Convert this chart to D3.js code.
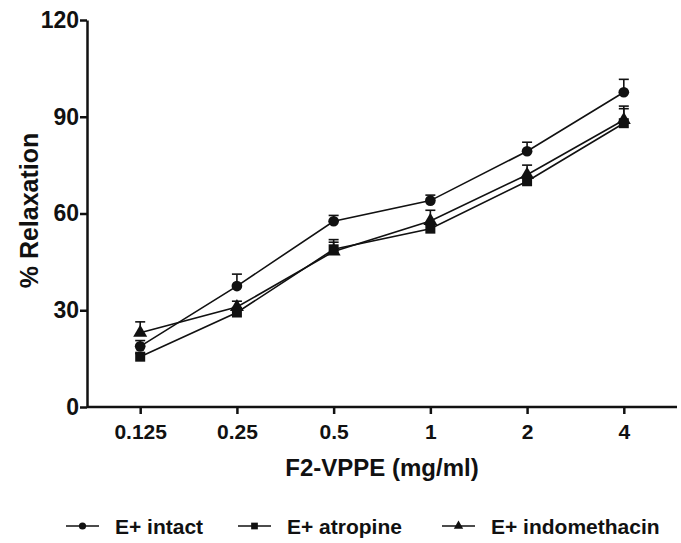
<!DOCTYPE html>
<html>
<head>
<meta charset="utf-8">
<script src="https://cdn.jsdelivr.net/npm/d3@7"></script>
<style>
  body { margin: 0; background: #fff; }
  text { font-family: "Liberation Sans", Arial, sans-serif; font-weight: bold; fill: #111; }
</style>
</head>
<body>
<div id="chart"></div>
<script>
// doses on the x axis
const doses = ["0.125", "0.25", "0.5", "1", "2", "4"];
const yTicks = [0, 30, 60, 90, 120];

// mean % relaxation and upper error (SEM) per dose
const intact = [18.8, 37.5, 57.6, 64.0, 79.3, 97.6];
const intactErr = [1.8, 3.7, 1.8, 1.7, 2.8, 4.0];
const atropine = [15.6, 29.3, 48.9, 55.3, 70.0, 88.0];
const atropineErr = [1.0, 1.5, 3.0, 1.2, 1.3, 5.3];
const indomethacin = [23.0, 31.0, 48.2, 57.7, 72.0, 89.0];
const indomethacinErr = [3.4, 1.8, 2.9, 3.3, 3.0, 3.5];

const seriesNames = ["E+ intact", "E+ atropine", "E+ indomethacin"];

const width = 681, height = 543;
const margin = {left: 87, right: 4, top: 20, bottom: 136};

const svg = d3.select("#chart").append("svg")
    .attr("width", width)
    .attr("height", height);

const x = d3.scalePoint()
    .domain(doses)
    .range([margin.left, width - margin.right])
    .padding(0.55);

const y = d3.scaleLinear()
    .domain([0, 120])
    .range([height - margin.bottom, margin.top]);

const series = [
    {name: seriesNames[0], values: intact, err: intactErr, shape: d3.symbolCircle, size: 90},
    {name: seriesNames[1], values: atropine, err: atropineErr, shape: d3.symbolSquare, size: 100},
    {name: seriesNames[2], values: indomethacin, err: indomethacinErr, shape: d3.symbolTriangle, size: 85}
];

// axes
const xAxis = svg.append("g")
    .attr("transform", `translate(0,${y(0)})`)
    .call(d3.axisBottom(x).tickSize(7).tickPadding(10).tickSizeOuter(0));
xAxis.select(".domain").attr("d", `M${margin.left},0H${width - margin.right}`);
xAxis.selectAll(".tick text").style("font-size", "21px");

const yAxis = svg.append("g")
    .attr("transform", `translate(${margin.left},0)`)
    .call(d3.axisLeft(y).tickValues(yTicks).tickSize(7).tickPadding(1).tickSizeOuter(0));
yAxis.selectAll(".tick text").style("font-size", "23px");

[xAxis, yAxis].forEach(function(ax) {
    ax.selectAll(".domain").attr("stroke", "#111").attr("stroke-width", 2.5);
    ax.selectAll(".tick line").attr("stroke", "#111").attr("stroke-width", 2.5);
    ax.selectAll(".tick text")
        .style("font-weight", "bold")
        .attr("fill", "#111");
});

// axis titles
svg.append("text")
    .attr("x", (margin.left + width - margin.right) / 2)
    .attr("y", 476)
    .attr("text-anchor", "middle")
    .style("font-size", "24px")
    .text("F2-VPPE (mg/ml)");

svg.append("text")
    .attr("transform", `translate(38,${y(60) - 3}) rotate(-90)`)
    .attr("text-anchor", "middle")
    .style("font-size", "25px")
    .text("% Relaxation");

// lines, error bars, markers
const line = d3.line()
    .x((d, i) => x(doses[i]))
    .y(d => y(d));

series.forEach(function(s) {
    const g = svg.append("g").attr("class", "series");
    g.append("path")
        .attr("d", line(s.values))
        .attr("fill", "none")
        .attr("stroke", "#111")
        .attr("stroke-width", 1.6);

    const bars = g.selectAll(".err").data(s.values).join("g").attr("class", "err");
    bars.append("line")
        .attr("x1", (d, i) => x(doses[i]))
        .attr("x2", (d, i) => x(doses[i]))
        .attr("y1", d => y(d))
        .attr("y2", (d, i) => y(d + s.err[i]))
        .attr("stroke", "#111")
        .attr("stroke-width", 1.6);
    bars.append("line")
        .attr("x1", (d, i) => x(doses[i]) - 5)
        .attr("x2", (d, i) => x(doses[i]) + 5)
        .attr("y1", (d, i) => y(d + s.err[i]))
        .attr("y2", (d, i) => y(d + s.err[i]))
        .attr("stroke", "#111")
        .attr("stroke-width", 1.6);

    g.selectAll(".mark").data(s.values).join("path")
        .attr("class", "mark")
        .attr("transform", (d, i) => `translate(${x(doses[i])},${y(d)})`)
        .attr("d", d3.symbol().type(s.shape).size(s.size))
        .attr("fill", "#111");
});

// legend
const legendX = [66, 238, 442];
const legend = svg.append("g").attr("class", "legend");
series.forEach(function(s, i) {
    const lg = legend.append("g").attr("transform", `translate(${legendX[i]},526)`);
    lg.append("line")
        .attr("x1", 0).attr("x2", 33)
        .attr("stroke", "#111").attr("stroke-width", 1.6);
    lg.append("path")
        .attr("transform", "translate(16.5,0)")
        .attr("d", d3.symbol().type(s.shape).size(s.size * 0.45))
        .attr("fill", "#111");
    lg.append("text")
        .attr("x", 49)
        .attr("y", 7.5)
        .style("font-size", "21px")
        .text(s.name);
});
</script>
</body>
</html>
